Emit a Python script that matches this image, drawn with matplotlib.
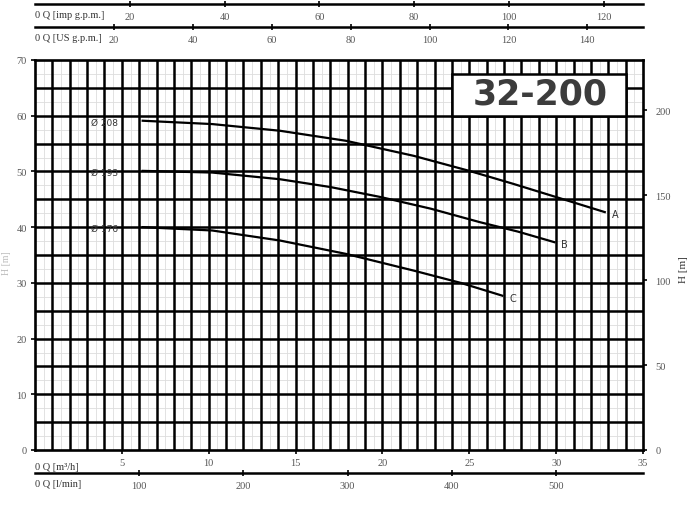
import numpy as np
import matplotlib.pyplot as plt
from matplotlib.patches import Rectangle

# pump curves, Q [m3/h] vs H [m]
q_a = [6.2, 10.2, 14.1, 17.9, 21.8, 25.0, 27.5, 30.0, 32.8]
h_a = [59.1, 58.5, 57.3, 55.5, 52.8, 50.1, 47.8, 45.4, 42.7]
q_b = [6.2, 10.2, 14.1, 17.0, 19.9, 22.8, 25.6, 27.8, 29.9]
h_b = [50.1, 49.8, 48.6, 47.2, 45.4, 43.3, 40.9, 39.2, 37.3]
q_c = [6.2, 10.2, 14.1, 17.9, 21.8, 24.5, 26.9]
h_c = [40.0, 39.4, 37.6, 35.2, 32.2, 30.0, 27.7]
curve_names = ["A", "B", "C"]
diam_labels = ["Ø 208", "Ø 193", "Ø 176"]

h_ticks = [0, 10, 20, 30, 40, 50, 60, 70]
ft_ticks = [0, 50, 100, 150, 200]
q_ticks = [5, 10, 15, 20, 25, 30, 35]
lmin_ticks = [100, 200, 300, 400, 500]
us_ticks = [20, 40, 60, 80, 100, 120, 140]
imp_ticks = [20, 40, 60, 80, 100, 120]

M_TO_FT = 3.2808
US_GPM = 0.22712   # m3/h per US gpm
IMP_GPM = 0.27277  # m3/h per imp gpm
QMAX, HMAX = 35, 70

plt.rcParams['font.family'] = ['Liberation Serif', 'DejaVu Serif']
grey = "#555555"

fig = plt.figure(figsize=(7, 5.06), dpi=100)
L, R = 35 / 700, 643 / 700
ax = fig.add_axes([L, 1 - 451 / 506, R - L, 390 / 506])
ax.set_xlim(0, QMAX)
ax.set_ylim(0, HMAX)

# light half grid
for x in np.arange(0.5, QMAX, 1.0):
    ax.axvline(x, color="#dddddd", lw=0.6, zorder=0)
for y in np.arange(2.5, HMAX, 5.0):
    ax.axhline(y, color="#dddddd", lw=0.6, zorder=0)
# main grid
for x in range(1, QMAX):
    ax.axvline(x, color="black", lw=1.8, zorder=1)
for y in range(5, HMAX, 5):
    ax.axhline(y, color="black", lw=1.8, zorder=1)
for s in ax.spines.values():
    s.set_linewidth(1.9)

# title box
ax.add_patch(Rectangle((24, 60), 10, 7.5, facecolor="white", edgecolor="black",
                       lw=1.8, zorder=2))
ax.text(29.1, 63.9, "32-200", fontsize=25, fontweight="bold", color="#3c3c3c",
        family="DejaVu Sans", ha="center", va="center", zorder=3)

for q, h, name, d in zip([q_a, q_b, q_c], [h_a, h_b, h_c], curve_names, diam_labels):
    ax.plot(q, h, color="black", lw=1.6, zorder=4)
    ax.text(q[-1] + 0.4, h[-1] - 0.4, name, fontsize=7, family="DejaVu Sans",
            color="#333333", va="center", ha="left", zorder=4)
    ax.text(3.2, h[0] - 0.2, d, fontsize=6.5, family="DejaVu Sans", color="#333333",
            va="center", ha="left", zorder=4)

ax.set_yticks(h_ticks)
ax.set_yticklabels([str(t) for t in h_ticks], color=grey, fontsize=7.5)
ax.set_xticks(q_ticks)
ax.set_xticklabels([str(t) for t in q_ticks], color=grey, fontsize=7.5)
ax.tick_params(axis="both", length=3, width=1.2, direction="out", pad=3)
ax.text(0, -0.03, "0 Q [m³/h]", transform=ax.transAxes, fontsize=7.5,
        color="#333333", ha="left", va="top")

ax2 = ax.twinx()
ax2.set_ylim(0, HMAX * M_TO_FT)
ax2.set_yticks(ft_ticks)
ax2.set_yticklabels([str(t) for t in ft_ticks], color=grey, fontsize=7.5)
ax2.tick_params(length=3, width=1.2, pad=6)
for s in ax2.spines.values():
    s.set_visible(False)

fig.text(0.976, 0.468, "H [m]", rotation=90, fontsize=8, color="#333333",
         ha="center", va="center")
fig.text(0.009, 0.48, "H [m]", rotation=90, fontsize=7, color="#bbbbbb",
         ha="center", va="center")


def put_label(a, label):
    a.annotate(label, xy=(0, 0), xycoords=("data", "axes fraction"),
               xytext=(0, -4), textcoords="offset points",
               fontsize=7.5, color="#333333", ha="left", va="top")


for ypix, xmax, ticks, label in [
        (474, QMAX * 1000 / 60, lmin_ticks, "0 Q [l/min]"),
        (28, QMAX / US_GPM, us_ticks, "0 Q [US g.p.m.]"),
        (5, QMAX / IMP_GPM, imp_ticks, "0 Q [imp g.p.m.]")]:
    a = fig.add_axes([L, 1 - ypix / 506, R - L, 0.0001])
    a.set_xlim(0, xmax)
    a.set_yticks([])
    for k in ["top", "left", "right"]:
        a.spines[k].set_visible(False)
    a.spines["bottom"].set_linewidth(1.8)
    a.set_xticks(ticks)
    a.set_xticklabels([str(t) for t in ticks], color=grey, fontsize=7.5)
    a.tick_params(axis="x", direction="inout", length=4, width=1.2, pad=4)
    a.patch.set_visible(False)
    put_label(a, label)

fig.savefig("out.png", dpi=100)
